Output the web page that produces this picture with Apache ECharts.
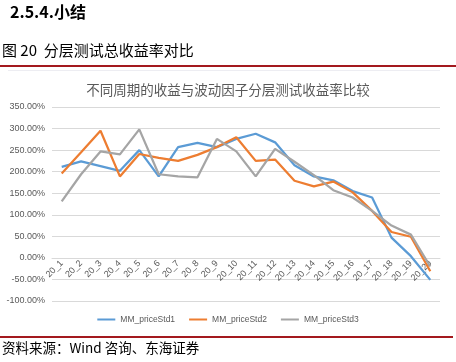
<!DOCTYPE html>
<html>
<head>
<meta charset="utf-8">
<script src="https://cdn.jsdelivr.net/npm/echarts@6/dist/echarts.min.js"></script>
<style>
html,body{margin:0;padding:0;background:#fff;}
#wrap{position:relative;width:456px;height:362px;overflow:hidden;}
#chart{position:absolute;left:0;top:0;width:456px;height:362px;}
</style>
</head>
<body>
<div id="wrap"><div id="chart"></div></div>
<script>
var categories = ['20_1','20_2','20_3','20_4','20_5','20_6','20_7','20_8','20_9','20_10','20_11','20_12','20_13','20_14','20_15','20_16','20_17','20_18','20_19','20_20'];
var std1 = [211, 224, 213, 202, 250, 189, 257, 267, 257, 276, 288, 268, 215, 189, 180, 155, 140, 47, 4, -51];
var std2 = [196, 245, 295, 189, 241, 232, 225, 239, 257, 280, 225, 228, 179, 166, 177, 152, 109, 60, 49, -31];
var std3 = [131, 194, 247, 240, 298, 194, 189, 187, 276, 247, 189, 253, 223, 192, 157, 140, 109, 75, 54, -20];
var seriesNames = ['MM_priceStd1', 'MM_priceStd2', 'MM_priceStd3'];
var yTicks = {min: -100, max: 350, interval: 50};

var chart = echarts.init(document.getElementById('chart'), null, {renderer: 'canvas'});
var colors = ['#5B9BD5', '#ED7D31', '#A5A5A5'];
var data = [std1, std2, std3];
var cjk = '"Noto Sans CJK SC", "Noto Sans", sans-serif';
var lat = '"Liberation Sans", Arial, sans-serif';

var gridTop = 107, gridBottom = 61, H = 362;
var plotH = H - gridTop - gridBottom;
// distance from the bottom of the plot to the zero line, derived from the axis range
var zeroOffset = plotH * (0 - yTicks.min) / (yTicks.max - yTicks.min);

chart.setOption({
  animation: false,
  backgroundColor: '#ffffff',
  color: colors,
  title: {
    text: '不同周期的收益与波动因子分层测试收益率比较',
    left: 'center',
    top: 78,
    textStyle: {fontFamily: cjk, fontSize: 13.5, fontWeight: 'normal', color: '#595959'}
  },
  graphic: [
    {type: 'text', left: 10, top: 4, style: {text: '2.5.4.小结', fontFamily: cjk, fontSize: 16, fontWeight: 'bold', fill: '#000'}},
    {type: 'text', left: 2, top: 43, style: {text: '图 20  分层测试总收益率对比', fontFamily: cjk, fontSize: 15, fill: '#000'}},
    {type: 'rect', left: 0, top: 65, shape: {width: 456, height: 2}, style: {fill: '#A3191E'}},
    {type: 'rect', left: 8, top: 70, shape: {width: 432, height: 1}, style: {fill: '#EDEDF2'}},
    {type: 'rect', left: 0, top: 336, shape: {width: 453, height: 2}, style: {fill: '#A3191E'}},
    {type: 'text', left: 2, top: 341, style: {text: '资料来源：Wind 咨询、东海证券', fontFamily: cjk, fontSize: 13.5, fill: '#000'}}
  ],
  legend: {
    data: seriesNames,
    top: 310,
    left: 'center',
    icon: 'rect',
    itemWidth: 18,
    itemHeight: 2,
    itemGap: 14,
    textStyle: {fontFamily: lat, fontSize: 8.5, color: '#595959'}
  },
  grid: {left: 52, right: 16, top: gridTop, bottom: gridBottom, containLabel: false},
  xAxis: {
    type: 'category',
    data: categories,
    boundaryGap: true,
    position: 'bottom',
    offset: -zeroOffset,
    axisLine: {onZero: false, lineStyle: {color: '#D9D9D9', width: 1}},
    axisTick: {show: false},
    axisLabel: {rotate: 45, interval: 0, fontFamily: lat, fontSize: 9, color: '#595959', margin: 4}
  },
  yAxis: {
    type: 'value',
    min: yTicks.min,
    max: yTicks.max,
    interval: yTicks.interval,
    axisLine: {show: false},
    axisTick: {show: false},
    splitLine: {lineStyle: {color: '#D9D9D9', width: 1}},
    axisLabel: {fontFamily: lat, fontSize: 9, color: '#595959', margin: 7,
      formatter: function (v) { return v.toFixed(2) + '%'; }}
  },
  series: seriesNames.map(function (n, i) {
    return {
      name: n,
      type: 'line',
      data: data[i],
      symbol: 'none',
      lineStyle: {width: 2.25, color: colors[i]},
      itemStyle: {color: colors[i]}
    };
  })
});
</script>
</body>
</html>
